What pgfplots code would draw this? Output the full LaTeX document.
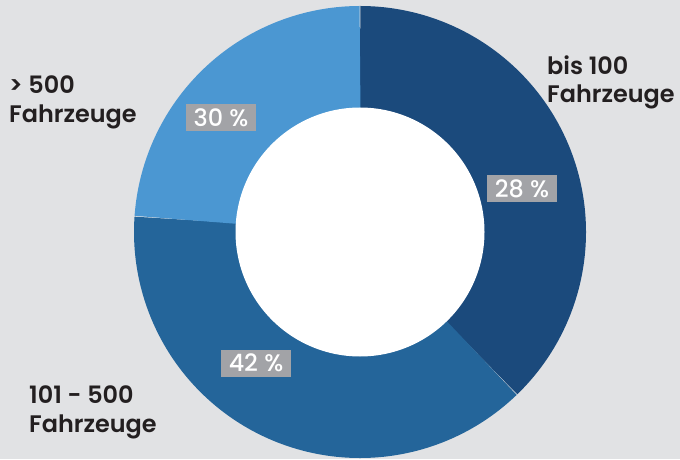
\documentclass[border=0pt]{standalone}
\usepackage{pgfplots}
\pgfplotsset{compat=1.18}
\usepackage{fontspec}
\setmainfont{Poppins}
\newfontfamily\semib{Poppins}[UprightFont={* SemiBold}]
\newfontfamily\medium{Poppins}[UprightFont={* Medium}]
\definecolor{bg}{HTML}{E1E2E4}
\definecolor{dark}{HTML}{1B4A7C}
\definecolor{mid}{HTML}{24659A}
\definecolor{light}{HTML}{4B97D2}
\definecolor{boxgray}{HTML}{A2A3A7}
\definecolor{ink}{HTML}{231F20}
\tikzset{
  lab/.style={anchor=base west, inner sep=0pt, text=ink,
    font=\semib\fontsize{24}{24}\selectfont},
  pct/.style={fill=boxgray, text=white, inner sep=0pt,
    minimum width=70bp, minimum height=27bp,
    font=\medium\fontsize{24}{24}\selectfont},
}

\begin{document}
\begin{tikzpicture}
\begin{axis}[
  scale only axis, width=680bp, height=459bp,
  xmin=-360, xmax=320, ymin=-227, ymax=232,
  hide axis, clip=false,
]
\fill[bg] (rel axis cs:0,0) rectangle (rel axis cs:1,1);

% ring segments: angle range of each slice, ring mid radius 175, width 102
\addplot[data cs=polar, domain=90:-46, samples=137, draw=dark, line width=102bp] {175};
\addplot[data cs=polar, domain=-46:-184, samples=139, draw=mid, line width=102bp] {175};
\addplot[data cs=polar, domain=-184:-270, samples=87, draw=light, line width=102bp] {175};
% hole
\addplot[data cs=polar, domain=0:360, samples=181, draw=none, fill=white] {124.5};

\node[lab] at (axis cs:187,157) {bis 100};
\node[lab] at (axis cs:187,129) {Fahrzeuge};
\node[lab] at (axis cs:-351,138) {> 500};
\node[lab] at (axis cs:-351,109) {Fahrzeuge};
\node[lab] at (axis cs:-331,-171) {101 - 500};
\node[lab] at (axis cs:-331,-200) {Fahrzeuge};

\node[pct] at (axis cs:162,43) {28 \%};
\node[pct] at (axis cs:-104,-131) {42 \%};
\node[pct] at (axis cs:-139,114.5) {30 \%};
\end{axis}
\end{tikzpicture}
\end{document}
